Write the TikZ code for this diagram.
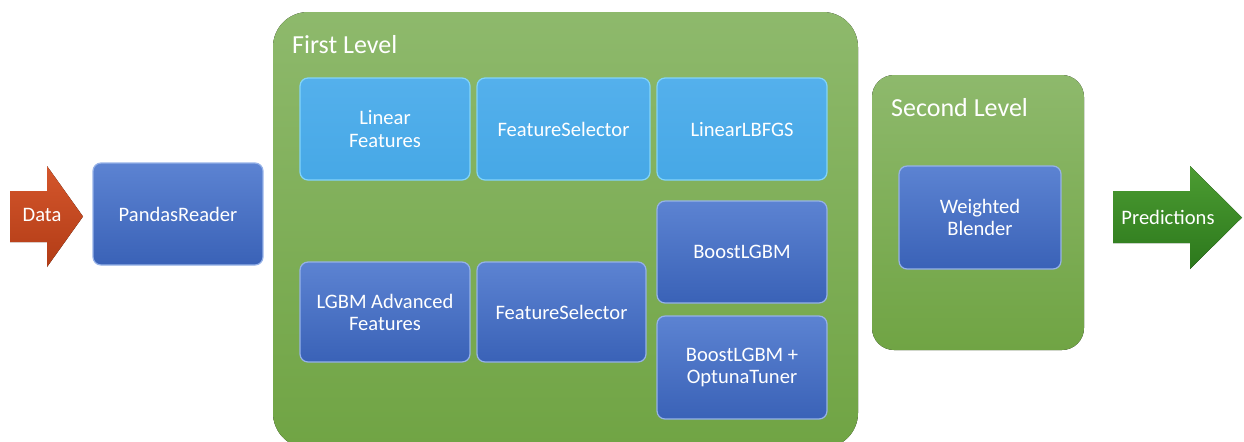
\documentclass[tikz,border=0pt]{standalone}
\usepackage{fontspec}
\setmainfont{Carlito}
\definecolor{levelgreentop}{RGB}{142,185,108}
\definecolor{levelgreenbot}{RGB}{112,164,68}
\definecolor{blocktop}{RGB}{92,131,210}
\definecolor{blockbot}{RGB}{58,98,183}
\definecolor{blockrim}{RGB}{150,178,232}
\definecolor{lighttop}{RGB}{84,176,236}
\definecolor{lightbot}{RGB}{70,168,230}
\definecolor{lightrim}{RGB}{130,212,250}
\definecolor{datatop}{RGB}{212,86,44}
\definecolor{databot}{RGB}{178,60,22}
\definecolor{predtop}{RGB}{76,156,50}
\definecolor{predbot}{RGB}{44,120,28}
\usetikzlibrary{positioning}

\begin{document}
\begin{tikzpicture}[x=0.02cm, y=-0.02cm,
    every node/.style={font=\fontsize{11.7}{12.6}\selectfont, text=white, align=center},
    block/.style={rounded corners=0.16cm, top color=blocktop, bottom color=blockbot,
        draw=blockrim, line width=0.7pt, minimum width=3.4cm, minimum height=2.04cm},
    lightblock/.style={block, top color=lighttop, bottom color=lightbot, draw=lightrim},
    leveltitle/.style={font=\fontsize{14.8}{16}\selectfont, anchor=west}]
    \useasboundingbox (0,0) rectangle (1244,441);
    % input / output arrows
    \fill[top color=datatop, bottom color=databot] (10,191) -- (47,191) -- (47,166) -- (83,216.5)
        -- (47,267) -- (47,242) -- (10,242) -- cycle;
    \fill[top color=predtop, bottom color=predbot] (1113,191) -- (1190,191) -- (1190,166)
        -- (1242,217.5) -- (1190,269) -- (1190,243) -- (1113,243) -- cycle;
    \node (data) at (42,215) {Data};
    \node (pred) at (1168,217) {Predictions};
    % reader
    \node[block] (reader) at (178,214) {PandasReader};
    % first level
    \fill[rounded corners=0.7cm, top color=levelgreentop, bottom color=levelgreenbot]
        (273,12) rectangle (858,448);
    \node[leveltitle] (first) at (286,45) {First Level};
    \node[lightblock] (linfeat) at (385,129) {Linear\\Features};
    \node[lightblock, minimum width=3.46cm] (linsel) at (563.5,129) {FeatureSelector};
    \node[lightblock] (lbfgs) at (742,129) {LinearLBFGS};
    \node[block, minimum height=2cm] (gbmfeat) at (385,312) {LGBM Advanced\\Features};
    \node[block, minimum width=3.38cm, minimum height=2cm] (gbmsel) at (561.5,312) {FeatureSelector};
    \node[block] (boost) at (742,252) {BoostLGBM};
    \node[block, minimum height=2.06cm] (optuna) at (742,367.5) {BoostLGBM +\\OptunaTuner};
    % second level
    \fill[rounded corners=0.44cm, top color=levelgreentop, bottom color=levelgreenbot]
        (872,75) rectangle (1084,350);
    \node[leveltitle] (second) at (885,108) {Second Level};
    \node[block, minimum width=3.24cm, minimum height=2.06cm] (blender) at (980,217.5) {Weighted\\Blender};
\end{tikzpicture}
\end{document}
